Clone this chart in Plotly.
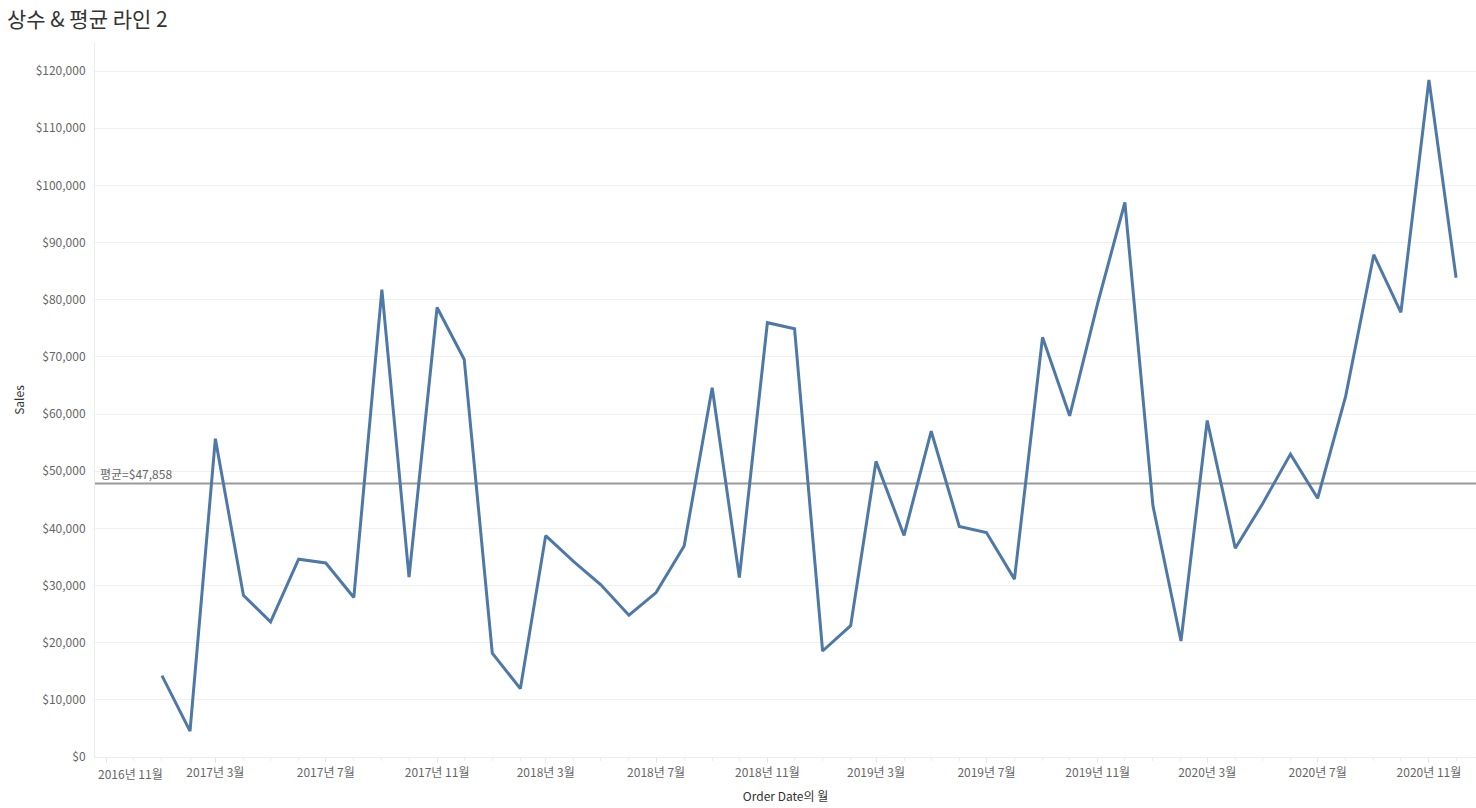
import plotly.graph_objects as go
import pandas as pd

months = pd.date_range("2017-01-01", "2020-12-01", freq="MS").strftime("%Y-%m-%d").tolist()
sales = [
    14237, 4520, 55691, 28295, 23648, 34595, 33946, 27909, 81777, 31453, 78629, 69546,
    18174, 11951, 38726, 34195, 30132, 24797, 28765, 36898, 64596, 31405, 75973, 74920,
    18542, 22979, 51716, 38750, 56988, 40345, 39262, 31115, 73410, 59688, 79412, 96999,
    43971, 20301, 58872, 36522, 44261, 52982, 45264, 63121, 87867, 77777, 118448, 83829,
]
tick_dates = ["2016-11-01", "2017-03-01", "2017-07-01", "2017-11-01", "2018-03-01", "2018-07-01",
              "2018-11-01", "2019-03-01", "2019-07-01", "2019-11-01", "2020-03-01", "2020-07-01",
              "2020-11-01"]
tick_text = ["2016년 11월", "2017년 3월", "2017년 7월", "2017년 11월", "2018년 3월", "2018년 7월",
             "2018년 11월", "2019년 3월", "2019년 7월", "2019년 11월", "2020년 3월", "2020년 7월",
             "2020년 11월"]
y_ticks = list(range(0, 120001, 10000))
y_text = [f"${v:,}" for v in y_ticks]

avg = sum(sales) / len(sales)

FONT = "Noto Sans CJK KR, Noto Sans, sans-serif"

fig = go.Figure()
fig.add_trace(go.Scatter(
    x=months, y=sales, mode="lines",
    line=dict(color="#4e79a7", width=3),
    hoverinfo="x+y", showlegend=False,
))

fig.add_shape(type="line", xref="paper", x0=0, x1=1, yref="y", y0=avg, y1=avg,
              line=dict(color="#9a9a9a", width=2), layer="below")
fig.add_annotation(xref="paper", x=0.002, yref="y", y=avg, text=f"평균=${avg:,.0f}",
                   showarrow=False, xanchor="left", yanchor="bottom", yshift=-1,
                   font=dict(family=FONT, size=12, color="#666666"))

# first tick label is pushed right in the reference (kept inside the axis)
shown_text = [""] + tick_text[1:]
fig.add_annotation(xref="x", x=tick_dates[0], yref="paper", y=0, text=tick_text[0],
                   showarrow=False, xanchor="center", yanchor="top", xshift=24, yshift=-6,
                   font=dict(family=FONT, size=12, color="#666666"))

fig.update_layout(
    width=1476, height=808,
    margin=dict(l=95, r=0, t=43, b=51, pad=0),
    paper_bgcolor="white", plot_bgcolor="white",
    font=dict(family=FONT, size=12, color="#666666"),
    title=dict(text="상수 & 평균 라인 2", x=7 / 1476, xref="container", xanchor="left",
               y=1 - 20 / 808, yref="container", yanchor="middle", pad=dict(l=0, t=0, b=0, r=0),
               font=dict(family=FONT, size=21, color="#333333")),
    xaxis=dict(
        automargin=False,
        range=["2016-10-19", "2020-12-23"],
        tickvals=tick_dates, ticktext=shown_text,
        ticks="outside", ticklen=5, tickcolor="#e6e6e6", tickwidth=1,
        minor=dict(dtick="M1", tick0="2016-11-01", ticks="outside", ticklen=3,
                   tickcolor="#eeeeee", showgrid=False),
        showgrid=False, showline=True, linecolor="#ececec", linewidth=1,
        zeroline=False,
        tickfont=dict(family=FONT, size=12, color="#666666"),
        title=dict(text="Order Date의 월", standoff=13,
                   font=dict(family=FONT, size=12, color="#333333")),
    ),
    yaxis=dict(
        automargin=False,
        range=[0, 124900],
        tickvals=y_ticks, ticktext=y_text,
        showgrid=True, gridcolor="#f0f0f0", gridwidth=1,
        zeroline=False, showline=True, linecolor="#ececec", linewidth=1,
        ticks="", ticklabelstandoff=6,
        tickfont=dict(family=FONT, size=12, color="#666666"),
        title=dict(text="Sales", standoff=8,
                   font=dict(family=FONT, size=12, color="#333333")),
    ),
)

fig.write_html("out.html", config={"displayModeBar": False},
               post_script="document.body.style.margin='0';document.body.style.overflow='hidden';")
